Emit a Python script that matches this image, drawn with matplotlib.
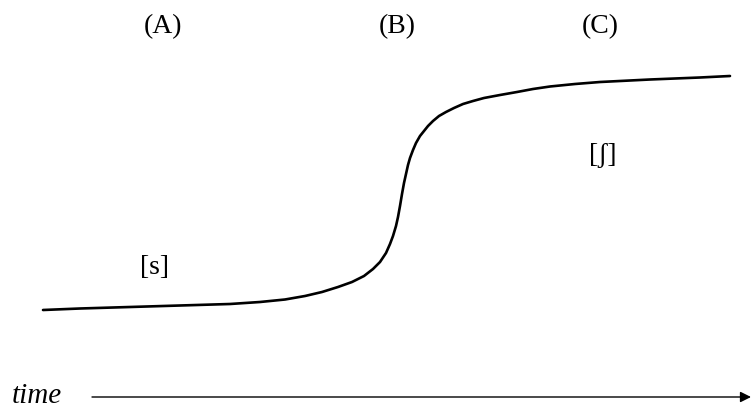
import matplotlib.pyplot as plt

# curve, in pixel coordinates (x right, y down)
curve_x = [43, 80, 130, 180, 230, 260, 285, 305, 322, 338, 352, 364, 373, 380,
           386, 390, 393, 396, 398, 400, 402, 404, 406, 408, 410, 413, 416, 420,
           424, 428, 433, 439, 446, 454, 463, 473, 484, 500, 517, 533, 550, 575,
           600, 650, 700, 730]
curve_y = [310, 308.5, 307, 305.5, 304, 302, 299.5, 296, 292, 287, 282, 276, 269,
           262, 253, 244, 236, 226, 217, 206, 194, 183, 174, 165, 158, 150, 143,
           136, 131, 126, 121, 116, 112, 108, 104, 101, 98, 95, 92, 89, 86.5, 84,
           82, 79.5, 77.5, 76]

phase_labels = ['(A)', '(B)', '(C)']
phase_x = [163, 397, 600]
sound_labels = ['[s]', '[ʃ]']
sound_x = [155, 603]
sound_y = [268, 155]

plt.rcParams['font.family'] = ['Liberation Serif', 'DejaVu Serif']

fig = plt.figure(figsize=(7.51, 4.12), dpi=100)
ax = fig.add_axes([0, 0, 1, 1])
ax.set_xlim(0, 751)
ax.set_ylim(412, 0)
ax.axis('off')

ax.plot(curve_x, curve_y, color='black', lw=1.9, solid_capstyle='round',
        solid_joinstyle='round')

for lab, x in zip(phase_labels, phase_x):
    ax.text(x, 27, lab, fontsize=20, ha='center', va='center')

for lab, x, y in zip(sound_labels, sound_x, sound_y):
    ax.text(x, y, lab, fontsize=20, ha='center', va='center')

ax.text(37, 396, 'time', fontsize=21, style='italic', ha='center', va='center')
ax.annotate('', xy=(751, 397), xytext=(92, 397),
            arrowprops=dict(arrowstyle='-|>', color='#555555', lw=1.0,
                            mutation_scale=16, shrinkA=0, shrinkB=0,
                            fc='black', ec='black'))

fig.savefig('out.png', dpi=100)
